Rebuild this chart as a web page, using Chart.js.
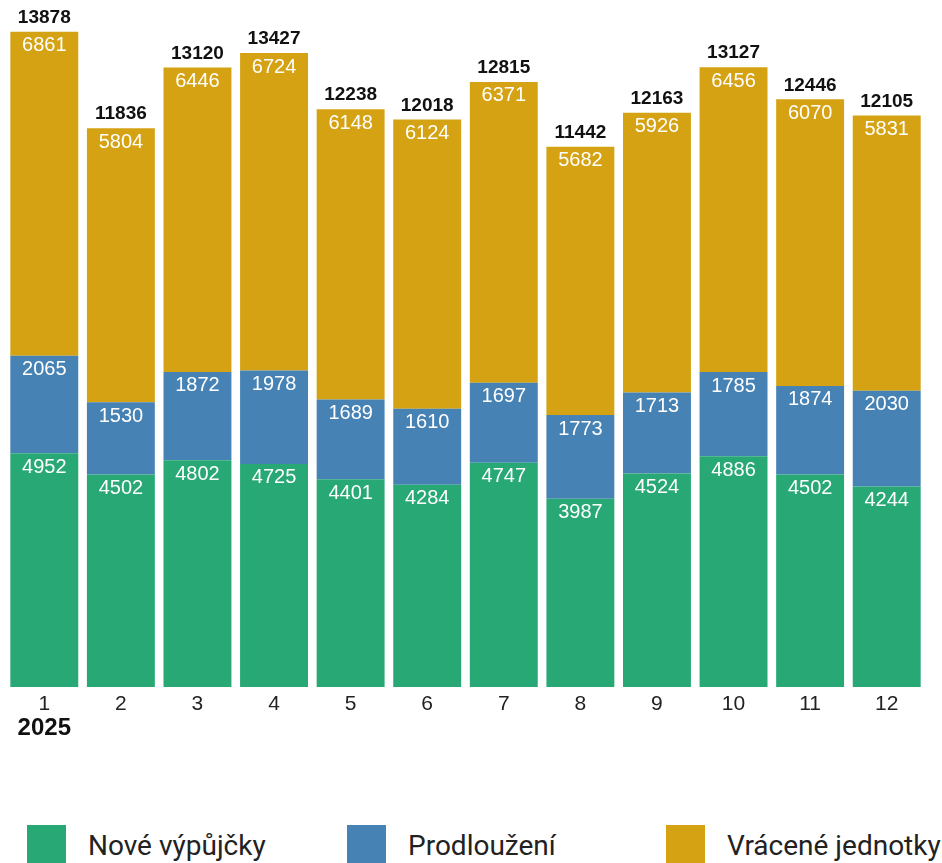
<!DOCTYPE html>
<html lang="cs">
<head>
<meta charset="utf-8">
<title>Výpůjčky 2025</title>
<script src="https://cdn.jsdelivr.net/npm/chart.js@4"></script>
<style>
  html, body { margin: 0; padding: 0; background: #fff; overflow: hidden; }
  #wrap { position: relative; width: 942px; height: 863px; }
  #box { position: absolute; left: 0; top: 0; width: 942px; height: 760px; }
  #legend { position: absolute; left: 0; top: 825px; width: 942px; height: 40px; }
  .item { position: absolute; top: 0; height: 40px; display: flex; align-items: center;
          font-family: Roboto, sans-serif; font-size: 28px; color: #222; white-space: nowrap; }
  .sw { width: 39px; height: 40px; margin-right: 22px; }
</style>
</head>
<body>
<div id="wrap">
  <div id="box"><canvas id="graf"></canvas></div>
  <div id="legend"></div>
</div>
<script>
// data
const mesice = ['1', '2', '3', '4', '5', '6', '7', '8', '9', '10', '11', '12'];
const rok = '2025';
const noveVypujcky = [4952, 4502, 4802, 4725, 4401, 4284, 4747, 3987, 4524, 4886, 4502, 4244];
const prodlouzeni = [2065, 1530, 1872, 1978, 1689, 1610, 1697, 1773, 1713, 1785, 1874, 2030];
const vraceneJednotky = [6861, 5804, 6446, 6724, 6148, 6124, 6371, 5682, 5926, 6456, 6070, 5831];
const nazvyRad = ['Nové výpůjčky', 'Prodloužení', 'Vrácené jednotky'];
const barvy = ['#27a874', '#4682b4', '#d4a212'];

const rady = [noveVypujcky, prodlouzeni, vraceneJednotky];
const soucty = mesice.map((m, i) => rady.reduce((s, r) => s + r[i], 0));

// popisky hodnot v barech a soucty nad nimi
const popisky = {
  id: 'popisky',
  afterDatasetsDraw(chart) {
    const ctx = chart.ctx;
    ctx.save();
    ctx.textAlign = 'center';
    ctx.textBaseline = 'middle';
    chart.data.datasets.forEach((ds, di) => {
      const meta = chart.getDatasetMeta(di);
      meta.data.forEach((bar, i) => {
        ctx.fillStyle = '#fff';
        ctx.font = '20px "Liberation Sans", Arial, sans-serif';
        ctx.fillText(String(ds.data[i]), bar.x, bar.y + 14);
        if (di === chart.data.datasets.length - 1) {
          ctx.fillStyle = '#111';
          ctx.font = 'bold 19px "Liberation Sans", Arial, sans-serif';
          ctx.fillText(String(soucty[i]), bar.x, bar.y - 14);
        }
      });
    });
    // rok pod prvnim mesicem
    const x = chart.scales.x.getPixelForTick(0);
    ctx.fillStyle = '#111';
    ctx.font = 'bold 24px "Liberation Sans", Arial, sans-serif';
    ctx.fillText(rok, x, 728);
    ctx.restore();
  }
};

new Chart(document.getElementById('graf'), {
  type: 'bar',
  data: {
    labels: mesice,
    datasets: rady.map((r, i) => ({
      label: nazvyRad[i],
      data: r,
      backgroundColor: barvy[i],
      borderWidth: 0,
      barPercentage: 0.887,
      categoryPercentage: 1
    }))
  },
  options: {
    responsive: true,
    maintainAspectRatio: false,
    animation: false,
    layout: { padding: { top: 26, left: 6, right: 17, bottom: 0 } },
    plugins: {
      legend: { display: false },
      tooltip: { enabled: false }
    },
    scales: {
      x: {
        stacked: true,
        grid: { display: false, drawTicks: false },
        border: { display: false },
        ticks: {
          color: '#222',
          padding: 5,
          font: { family: '"Liberation Sans", Arial, sans-serif', size: 21 }
        },
        afterFit(s) { s.height = 73; }
      },
      y: {
        stacked: true,
        display: false,
        min: 0,
        max: 14000
      }
    }
  },
  plugins: [popisky]
});

// legenda
const legenda = document.getElementById('legend');
const pozice = [27, 347, 666];
nazvyRad.forEach((n, i) => {
  const d = document.createElement('div');
  d.className = 'item';
  d.style.left = pozice[i] + 'px';
  const sw = document.createElement('span');
  sw.className = 'sw';
  sw.style.background = barvy[i];
  d.appendChild(sw);
  d.appendChild(document.createTextNode(n));
  legenda.appendChild(d);
});
</script>
</body>
</html>
